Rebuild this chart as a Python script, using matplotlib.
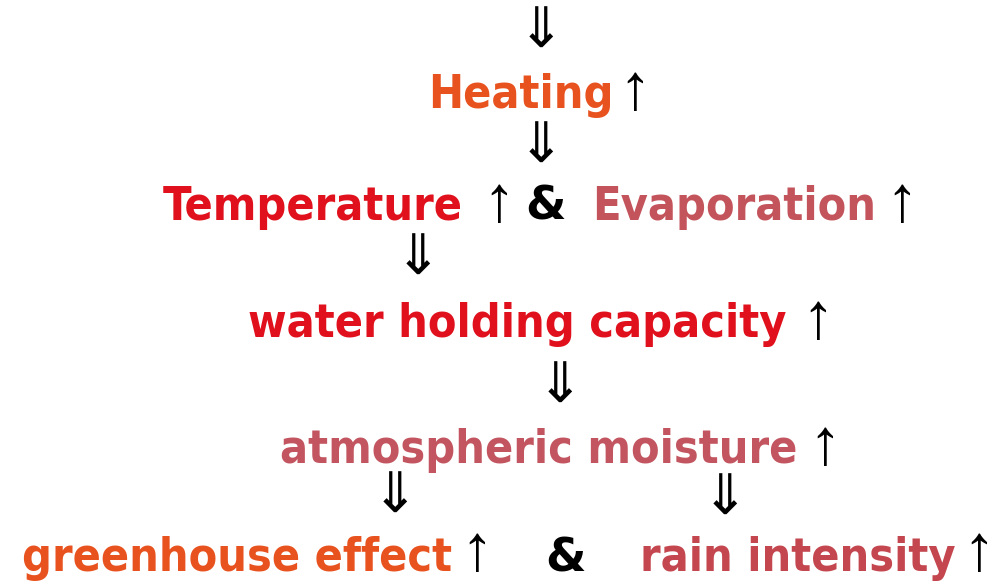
import matplotlib
matplotlib.use("Agg")
from matplotlib import pyplot as plt

# node labels of the flow diagram
labels = ["Heating", "Temperature", "Evaporation", "water holding capacity",
          "atmospheric moisture", "greenhouse effect", "rain intensity"]
label_colors = ["#e8521f", "#e0101c", "#c4545c", "#e0101c",
                "#c25560", "#e8521f", "#c4464f"]
label_x = [428, 163, 592, 248, 280, 22, 640]
label_y = [108, 220, 220, 337, 463, 571, 571]
up_x = [635, 499, 902, 818, 825, 477, 979]

# "&" connectors
amp_x = [545, 565]
amp_y = [220, 571]

# down arrows between rows
down_x = [541, 541, 418, 560, 395, 725]
down_y = [48, 163, 275, 403, 513, 515]

W, H = 995, 586
fig = plt.figure(figsize=(W / 100, H / 100), dpi=100)
ax = fig.add_axes([0, 0, 1, 1])
ax.set_xlim(0, W)
ax.set_ylim(H, 0)
ax.axis("off")

fs = 33.5
for s, c, x, y, ux in zip(labels, label_colors, label_x, label_y, up_x):
    ax.text(x, y, s, color=c, fontsize=fs, fontweight="bold",
            family="DejaVu Sans", fontstretch="condensed",
            ha="left", va="baseline")
    ax.text(ux, min(y + 1, 570), "\u2191", color="black", fontsize=47,
            family=["Liberation Serif", "DejaVu Sans"],
            ha="center", va="baseline")

for x, y in zip(amp_x, amp_y):
    ax.text(x, y, "&", color="black", fontsize=fs, fontweight="bold",
            family="DejaVu Sans", ha="center", va="baseline")

for x, y in zip(down_x, down_y):
    ax.text(x, y, "\u21d3", color="black", fontsize=40,
            family="DejaVu Sans", ha="center", va="baseline")

fig.savefig("out.png", dpi=100, facecolor="white")
